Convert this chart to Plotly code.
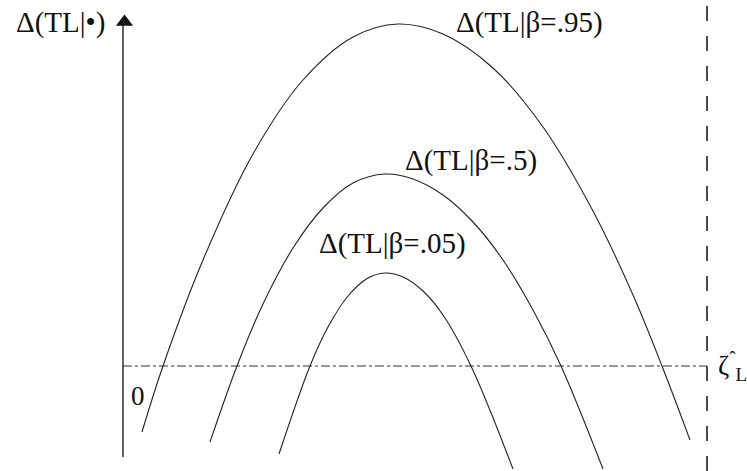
import plotly.graph_objects as go

# Schematic curves of Δ(TL|β) against ζ (arbitrary units)
beta_labels = ["Δ(TL|β=.95)", "Δ(TL|β=.5)", "Δ(TL|β=.05)"]

zeta_95 = [1.9, 4.0, 8, 13, 18, 23, 27.5, 32, 37, 42, 47, 51, 53.9, 56.7]
delta_95 = [-6.6, 0, 10.6, 21.2, 28.6, 32.9, 34.2, 33.2, 29.8, 23.9, 15.5, 7.1, 0, -7.4]

zeta_50 = [8.7, 11.4, 14, 17, 20, 23, 26.2, 29, 32, 35, 38, 41, 43.8, 48.0]
delta_50 = [-7.6, 0, 6.2, 11.8, 15.8, 18.3, 19.2, 18.7, 17.1, 14.4, 10.6, 5.6, 0, -10.3]

zeta_05 = [15.6, 18.7, 20.5, 22.5, 24.5, 26.2, 28, 30, 32, 34.8, 39.0]
delta_05 = [-8.8, 0, 3.9, 7.0, 8.8, 9.3, 8.9, 7.5, 5.1, 0, -10.3]

zeta_L = 58.4          # upper limit ζ_L
axis_bottom, axis_top = -9.1, 34.4

x_range = [-12.3, 62.4]
y_range = [-10.5, 36.6]

serif = "Liberation Serif, Times New Roman, serif"
ink = "#111111"

fig = go.Figure()

# horizontal reference line at Δ = 0
fig.add_trace(go.Scatter(x=[0, zeta_L], y=[0, 0], mode="lines",
                         line=dict(color="#333333", width=1, dash="dashdot"),
                         hoverinfo="skip"))

# vertical dashed line at ζ_L
fig.add_trace(go.Scatter(x=[zeta_L, zeta_L], y=[y_range[0], y_range[1]], mode="lines",
                         line=dict(color=ink, width=1.5, dash="longdash"),
                         hoverinfo="skip"))

# vertical Δ axis with an arrow head on top
fig.add_trace(go.Scatter(x=[0, 0], y=[axis_bottom, axis_top], mode="lines",
                         line=dict(color=ink, width=1.3), hoverinfo="skip"))
fig.add_trace(go.Scatter(x=[0.15], y=[axis_top], mode="markers",
                         marker=dict(symbol="triangle-up", size=15, color=ink,
                                     line=dict(width=0)),
                         hoverinfo="skip"))

for zx, dy in [(zeta_95, delta_95), (zeta_50, delta_50), (zeta_05, delta_05)]:
    fig.add_trace(go.Scatter(x=zx, y=dy, mode="lines",
                             line=dict(color="#222222", width=1.1, shape="spline", smoothing=1.0),
                             hoverinfo="skip"))

text_font = dict(family=serif, size=29, color=ink)
labels = [
    ("Δ(TL|•)", -6.3, 34.4),
    (beta_labels[0], 40.6, 34.4),
    (beta_labels[1], 34.8, 20.6),
    (beta_labels[2], 26.9, 12.3),
]
for txt, lx, ly in labels:
    fig.add_annotation(x=lx, y=ly, xref="x", yref="y", text=txt, showarrow=False,
                       font=text_font)

fig.add_annotation(x=1.5, y=-3.0, xref="x", yref="y", text="0", showarrow=False,
                   font=dict(family=serif, size=27, color=ink))

fig.add_annotation(x=60.9, y=0.0, xref="x", yref="y",
                   text="ζ<sup>ˆ</sup><sub>L</sub>",
                   showarrow=False, font=dict(family=serif, size=27, color=ink))

fig.update_layout(
    width=747, height=471,
    margin=dict(l=0, r=0, t=0, b=0),
    paper_bgcolor="white", plot_bgcolor="white",
    showlegend=False,
    xaxis=dict(range=x_range, visible=False, fixedrange=True),
    yaxis=dict(range=y_range, visible=False, fixedrange=True),
)

fig.write_html("out.html")
